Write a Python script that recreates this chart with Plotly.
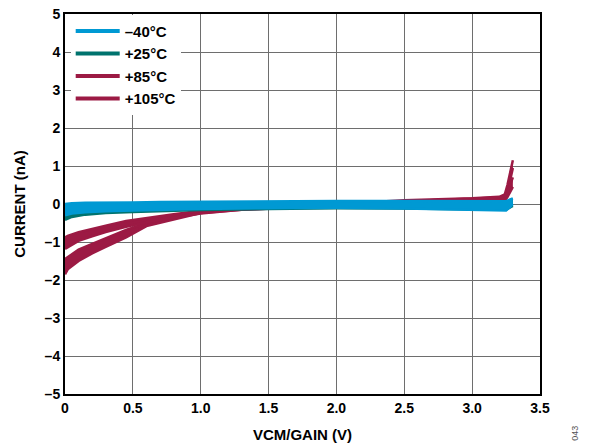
import plotly.graph_objects as go

# ---------------- data ----------------
x_cold = [0, 0.05, 0.15, 0.3, 0.5, 0.7, 1.0, 1.5, 2.0, 2.5, 3.0, 3.2, 3.25, 3.28, 3.3]
cold_hi = [0.0, 0.02, 0.03, 0.03, 0.04, 0.05, 0.06, 0.07, 0.08, 0.08, 0.07, 0.06, 0.07, 0.12, 0.15]
cold_lo = [-0.30, -0.25, -0.22, -0.19, -0.17, -0.15, -0.13, -0.11, -0.10, -0.12, -0.15, -0.17, -0.17, -0.08, 0.0]

x_room = [0, 0.05, 0.15, 0.3, 0.5, 0.7, 1.0, 1.5, 2.0, 2.5, 3.0, 3.2, 3.25, 3.3]
room_hi = [-0.05, -0.03, -0.02, -0.01, 0.0, 0.0, 0.02, 0.04, 0.05, 0.06, 0.06, 0.06, 0.07, 0.1]
room_lo = [-0.42, -0.34, -0.28, -0.24, -0.21, -0.19, -0.16, -0.13, -0.11, -0.12, -0.14, -0.16, -0.15, -0.05]

x_hot = [0, 0.02, 0.1, 0.2, 0.3, 0.45, 0.6, 0.8, 1.0, 1.3, 1.7, 2.0, 2.5, 3.0, 3.2, 3.24, 3.26, 3.28, 3.3]
h85_hi = [-0.88, -0.84, -0.74, -0.65, -0.57, -0.45, -0.37, -0.27, -0.18, -0.1, -0.04, 0.0, 0.08, 0.13, 0.17, 0.2, 0.3, 0.5, 0.7]
h85_lo = [-1.18, -1.14, -0.97, -0.85, -0.74, -0.6, -0.48, -0.36, -0.25, -0.15, -0.09, -0.06, -0.03, 0.0, 0.04, 0.08, 0.18, 0.3, 0.45]
h105_hi = [-1.45, -1.4, -1.2, -1.05, -0.9, -0.68, -0.5, -0.34, -0.2, -0.11, -0.05, 0.0, 0.1, 0.15, 0.19, 0.25, 0.5, 0.8, 1.15]
h105_lo = [-1.85, -1.72, -1.5, -1.3, -1.13, -0.88, -0.58, -0.4, -0.24, -0.15, -0.09, -0.07, -0.04, -0.01, 0.03, 0.1, 0.3, 0.6, 0.95]

series_names = ["–40°C", "+25°C", "+85°C", "+105°C"]
series_colors = ["#0099d3", "#00736e", "#9c1a44", "#9c1a44"]

x_ticks = [0, 0.5, 1.0, 1.5, 2.0, 2.5, 3.0, 3.5]
x_ticklabels = ["0", "0.5", "1.0", "1.5", "2.0", "2.5", "3.0", "3.5"]
y_ticks = [5, 4, 3, 2, 1, 0, -1, -2, -3, -4, -5]
y_ticklabels = ["5", "4", "3", "2", "1", "0", "–1", "–2", "–3", "–4", "–5"]

FONT = "Liberation Sans, Arial, sans-serif"

fig = go.Figure()

bands = [
    (x_hot, h105_lo, h105_hi, series_colors[3]),
    (x_hot, h85_lo, h85_hi, series_colors[2]),
    (x_room, room_lo, room_hi, series_colors[1]),
    (x_cold, cold_lo, cold_hi, series_colors[0]),
]
for xs, lo, hi, col in bands:
    fig.add_trace(go.Scatter(x=xs, y=lo, mode="lines", line=dict(color=col, width=2.5),
                             showlegend=False, hoverinfo="skip"))
    fig.add_trace(go.Scatter(x=xs, y=hi, mode="lines", line=dict(color=col, width=2.5),
                             fill="tonexty", fillcolor=col, showlegend=False, hoverinfo="skip"))

# legend entries
for i, (nm, col) in enumerate(zip(series_names, series_colors)):
    fig.add_trace(go.Scatter(x=[None], y=[None], mode="lines", name=nm,
                             line=dict(color=col, width=4), legendrank=i + 1))

fig.update_layout(
    width=598, height=448,
    margin=dict(l=65, r=58, t=14, b=54, autoexpand=False),
    paper_bgcolor="white", plot_bgcolor="white",
    font=dict(family=FONT, color="black"),
    showlegend=True,
    legend=dict(x=0.012, y=0.998, xanchor="left", yanchor="top",
                bgcolor="white", borderwidth=0, itemwidth=44,
                font=dict(family=FONT, size=15, color="black", weight="bold"),
                traceorder="normal"),
)
fig.update_xaxes(range=[0, 3.5], tickvals=x_ticks, ticktext=x_ticklabels,
                 showgrid=True, gridcolor="#6e6e6e", gridwidth=1,
                 showline=True, linecolor="black", linewidth=2, mirror=True,
                 ticks="", zeroline=False, automargin=False,
                 tickfont=dict(family=FONT, size=14, weight="bold"),
                 title=dict(text="VCM/GAIN (V)", font=dict(family=FONT, size=15, weight="bold")))
fig.update_yaxes(range=[-5, 5], tickvals=y_ticks, ticktext=y_ticklabels,
                 showgrid=True, gridcolor="#6e6e6e", gridwidth=1,
                 showline=True, linecolor="black", linewidth=2, mirror=True,
                 ticks="", zeroline=False, automargin=False,
                 tickfont=dict(family=FONT, size=14, weight="bold"),
                 title=dict(text="CURRENT (nA)", font=dict(family=FONT, size=15, weight="bold")))

fig.add_annotation(text="043", xref="paper", yref="paper", x=1.075, y=-0.103,
                   xanchor="center", yanchor="middle",
                   showarrow=False, textangle=-90,
                   font=dict(family=FONT, size=9, color="#555555"))

# remove the browser's default 8px body margin so the figure fills the window
fig.write_html("out.html", config={"displayModeBar": False},
               post_script="document.body.style.margin='0';")
